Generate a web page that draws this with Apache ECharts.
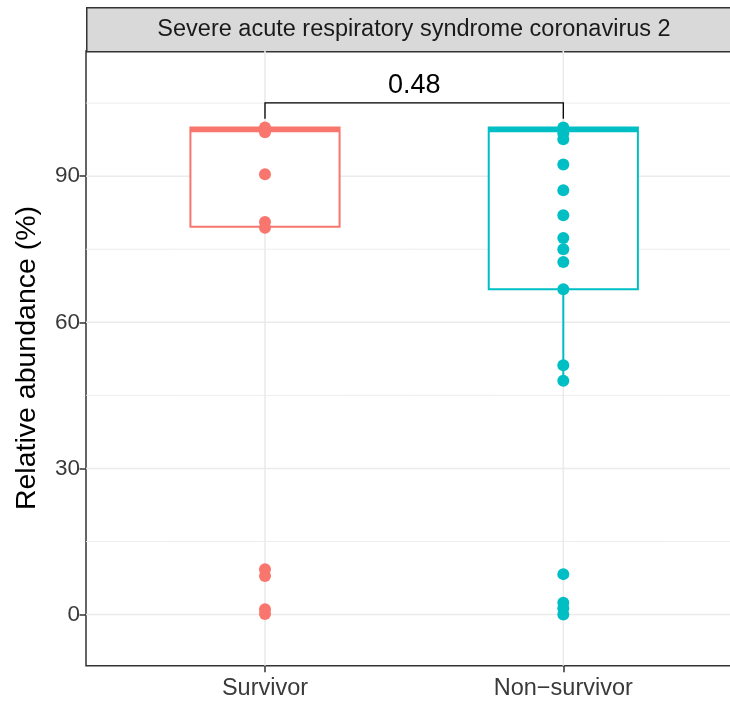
<!DOCTYPE html>
<html><head><meta charset="utf-8">
<script src="https://cdn.jsdelivr.net/npm/echarts@6/dist/echarts.min.js"></script>
<style>html,body{margin:0;padding:0;background:#fff}#c{width:730px;height:702px}</style>
</head><body><div id="c"></div>
<script>
// ---- data ----
const categories = ['Survivor', 'Non\u2212survivor'];
const categoryPos = [1, 2];
const panelTitle = 'Severe acute respiratory syndrome coronavirus 2';
const yTitle = 'Relative abundance (%)';
const yTicks = [0, 30, 60, 90];
const yMinor = [15, 45, 75, 105];
const survivorPoints = [100, 99.7, 99.0, 90.4, 80.6, 79.4, 9.3, 7.9, 1.1, 0.1];
const nonSurvivorPoints = [100, 99.7, 98.8, 97.6, 92.4, 87.1, 82.0, 77.3, 75.0, 72.4, 66.8, 51.2, 48.0, 8.3, 2.4, 1.3, 0.0];
// [lower whisker, Q1, median, Q3, upper whisker]
const survivorBox = [79.4, 79.6, 99.5, 100, 100];
const nonSurvivorBox = [48.0, 66.8, 99.5, 100, 100];
const pLabel = '0.48';
const bracket = [1, 2, 105.05, 101.8]; // x1, x2, top y, tick end y

// ---- styling ----
const colors = ['#F8766D', '#00BFC4'];
const FONT = 'Liberation Sans, Arial, Helvetica, sans-serif';
const xRange = [0.4, 2.6];
const yRange = [-10.5, 115.7];

const chart = echarts.init(document.getElementById('c'));

function hLine(params, api) {
  const cs = params.coordSys;
  const p = api.coord([xRange[0], api.value(1)]);
  const major = api.value(0) === 1;
  return { type: 'line', shape: { x1: cs.x, y1: p[1], x2: cs.x + cs.width, y2: p[1] },
    style: { stroke: '#EBEBEB', lineWidth: major ? 1.6 : 0.9 } };
}
function vLine(params, api) {
  const cs = params.coordSys;
  const p = api.coord([api.value(0), yRange[0]]);
  return { type: 'line', shape: { x1: p[0], y1: cs.y, x2: p[0], y2: cs.y + cs.height },
    style: { stroke: '#EBEBEB', lineWidth: 1.6 } };
}
function renderBox(params, api) {
  const x = api.value(0);
  const lo = api.coord([x, api.value(1)]);
  const q1 = api.coord([x, api.value(2)]);
  const med = api.coord([x, api.value(3)]);
  const q3 = api.coord([x, api.value(4)]);
  const hi = api.coord([x, api.value(5)]);
  const half = api.size([0.25, 0])[0];
  const col = colors[params.dataIndex];
  return { type: 'group', children: [
    { type: 'line', shape: { x1: lo[0], y1: lo[1], x2: q1[0], y2: q1[1] }, style: { stroke: col, lineWidth: 2 } },
    { type: 'line', shape: { x1: q3[0], y1: q3[1], x2: hi[0], y2: hi[1] }, style: { stroke: col, lineWidth: 2 } },
    { type: 'rect', shape: { x: q1[0] - half, y: q3[1], width: 2 * half, height: q1[1] - q3[1] },
      style: { fill: '#fff', stroke: col, lineWidth: 2 } },
    { type: 'line', shape: { x1: med[0] - half, y1: med[1], x2: med[0] + half, y2: med[1] },
      style: { stroke: col, lineWidth: 4.5 } }
  ]};
}
function renderBracket(params, api) {
  const a = api.coord([api.value(0), api.value(2)]);
  const b = api.coord([api.value(1), api.value(2)]);
  const a2 = api.coord([api.value(0), api.value(3)]);
  const b2 = api.coord([api.value(1), api.value(3)]);
  return { type: 'group', children: [
    { type: 'polyline', shape: { points: [[a2[0], a2[1]], [a[0], a[1]], [b[0], b[1]], [b2[0], b2[1]]] },
      style: { stroke: '#000', lineWidth: 1.3, fill: null } },
    { type: 'text', x: (a[0] + b[0]) / 2, y: a[1] - 17.5,
      style: { text: pLabel, fontSize: 27, fontFamily: FONT, fill: '#000', align: 'center', verticalAlign: 'middle' } }
  ]};
}

const option = {
  animation: false,
  backgroundColor: '#fff',
  grid: { left: 86, top: 51, width: 656.3, height: 614.7, outerBoundsMode: 'none', containLabel: false,
    show: true, borderColor: '#333', borderWidth: 1.5, backgroundColor: '#fff' },
  xAxis: {
    type: 'value', min: xRange[0], max: xRange[1],
    axisLine: { show: false, onZero: false },
    splitLine: { show: false },
    axisTick: { show: true, customValues: categoryPos, length: 6.5, lineStyle: { color: '#333', width: 1.5 } },
    axisLabel: { customValues: categoryPos, formatter: v => categories[Math.round(v) - 1],
      fontSize: 23.5, fontFamily: FONT, color: '#3a3a3a', margin: 11 }
  },
  yAxis: {
    type: 'value', min: yRange[0], max: yRange[1],
    axisLine: { show: false, onZero: false },
    splitLine: { show: false },
    axisTick: { show: true, customValues: yTicks, length: 6.5, lineStyle: { color: '#333', width: 1.5 } },
    axisLabel: { customValues: yTicks, fontSize: 22.5, fontFamily: FONT, color: '#3a3a3a', margin: 6 }
  },
  graphic: [
    { type: 'rect', left: 86, top: 7, shape: { width: 660, height: 44 },
      style: { fill: '#D9D9D9', stroke: '#333', lineWidth: 1.5 } },
    { type: 'text', x: 414, y: 30, style: { text: panelTitle, fontSize: 23.5, fontFamily: FONT, fill: '#1A1A1A', align: 'center', verticalAlign: 'middle' } },
    { type: 'text', x: 27, y: 358, rotation: Math.PI / 2,
      style: { text: yTitle, fontSize: 28.5, fontFamily: FONT, fill: '#000', align: 'center', verticalAlign: 'middle' } }
  ],
  series: [
    { type: 'custom', z: 1, silent: true, renderItem: hLine,
      data: yTicks.map(v => [1, v]).concat(yMinor.map(v => [0, v])) },
    { type: 'custom', z: 1, silent: true, renderItem: vLine, data: categoryPos.map(v => [v, 0]) },
    { type: 'custom', z: 2, silent: true, renderItem: renderBox,
      data: [[categoryPos[0]].concat(survivorBox), [categoryPos[1]].concat(nonSurvivorBox)] },
    { type: 'scatter', z: 3, symbolSize: 12, itemStyle: { color: colors[0], opacity: 1 },
      data: survivorPoints.map(v => [categoryPos[0], v]) },
    { type: 'scatter', z: 3, symbolSize: 12, itemStyle: { color: colors[1], opacity: 1 },
      data: nonSurvivorPoints.map(v => [categoryPos[1], v]) },
    { type: 'custom', z: 4, silent: true, renderItem: renderBracket, data: [bracket] }
  ]
};
chart.setOption(option);
</script>
</body></html>
